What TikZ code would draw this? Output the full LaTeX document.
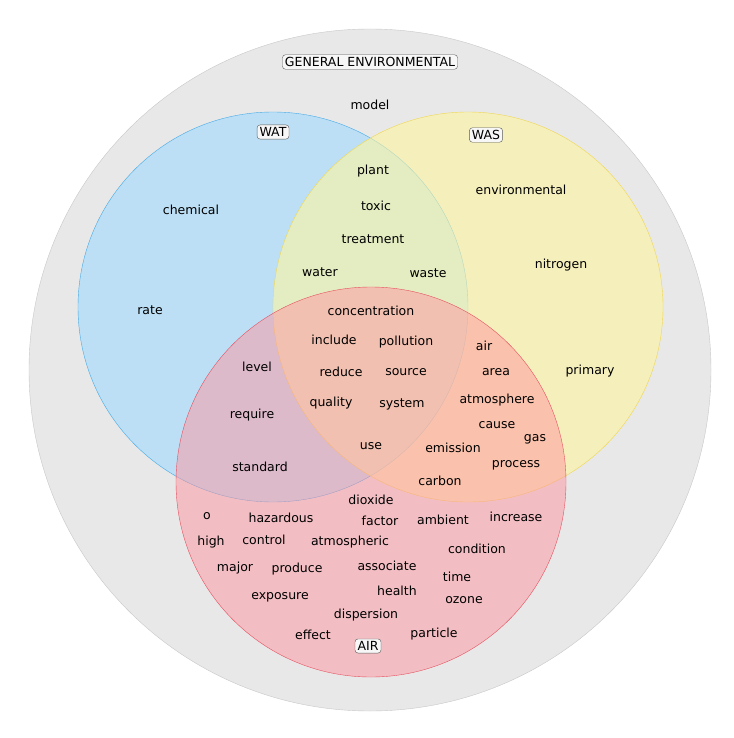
\documentclass[tikz,border=0pt]{standalone}
\usepackage{fontspec}
\setmainfont{DejaVu Sans}
\usetikzlibrary{positioning}
\definecolor{genfill}{RGB}{232,232,232}
\definecolor{genline}{RGB}{200,200,200}
\definecolor{watcolor}{RGB}{70,170,230}
\definecolor{wascolor}{RGB}{240,215,80}
\definecolor{aircolor}{RGB}{230,80,95}
\definecolor{watfill}{RGB}{160,218,255}
\definecolor{wasfill}{RGB}{255,245,160}
\definecolor{airfill}{RGB}{255,150,160}
\tikzset{
  word/.style={font=\fontsize{12.5}{14}\selectfont, inner sep=1pt},
  setlabel/.style={draw=gray!70!black, fill=white!94!gray, rounded corners=3pt, font=\fontsize{12.5}{14}\selectfont, inner sep=2.5pt}
}
\begin{document}
\begin{tikzpicture}[x=1pt,y=-1pt]
    \useasboundingbox (0,0) rectangle (733,738);
    % Sets
    \draw[genline, fill=genfill] (370,370) circle (341);
    \draw[watcolor, fill=watfill, fill opacity=0.6] (273,307) circle (195);
    \draw[wascolor, fill=wasfill, fill opacity=0.6] (468,307) circle (195);
    \draw[aircolor, fill=airfill, fill opacity=0.5] (371,482) circle (195);
    % Set labels
    \node[setlabel] (gen) at (370,62) {GENERAL ENVIRONMENTAL};
    \node[setlabel] (wat) at (273,132) {WAT};
    \node[setlabel] (was) at (486,135) {WAS};
    \node[setlabel] (air) at (368,646) {AIR};
    % Words
    \foreach \w/\x/\y in {model/370/105, plant/373/171, toxic/376/206, treatment/373/239,
        water/320/272, waste/428/273, chemical/191/210, rate/150/310,
        environmental/521/190, nitrogen/561/265, primary/590/371,
        concentration/371/311, include/334/340, pollution/406/342, reduce/341/372,
        source/406/372, quality/331/403, system/402/404, use/371/446,
        level/257/367, require/252/415, standard/260/467,
        air/484/346, area/496/372, atmosphere/497/400, cause/497/425, gas/535/439,
        emission/453/448, process/516/465, carbon/440/481,
        dioxide/371/500, factor/380/521, ambient/443/520, increase/516/517,
        o/207/516, hazardous/281/518, high/211/542, control/264/540,
        atmospheric/350/542, condition/477/549, major/235/568, produce/297/569,
        associate/387/566, time/457/577, health/397/591, exposure/280/597,
        ozone/464/600, dispersion/366/615, effect/313/635, particle/434/634}
        \node[word] (w-\w) at (\x,\y) {\w};
\end{tikzpicture}
\end{document}
